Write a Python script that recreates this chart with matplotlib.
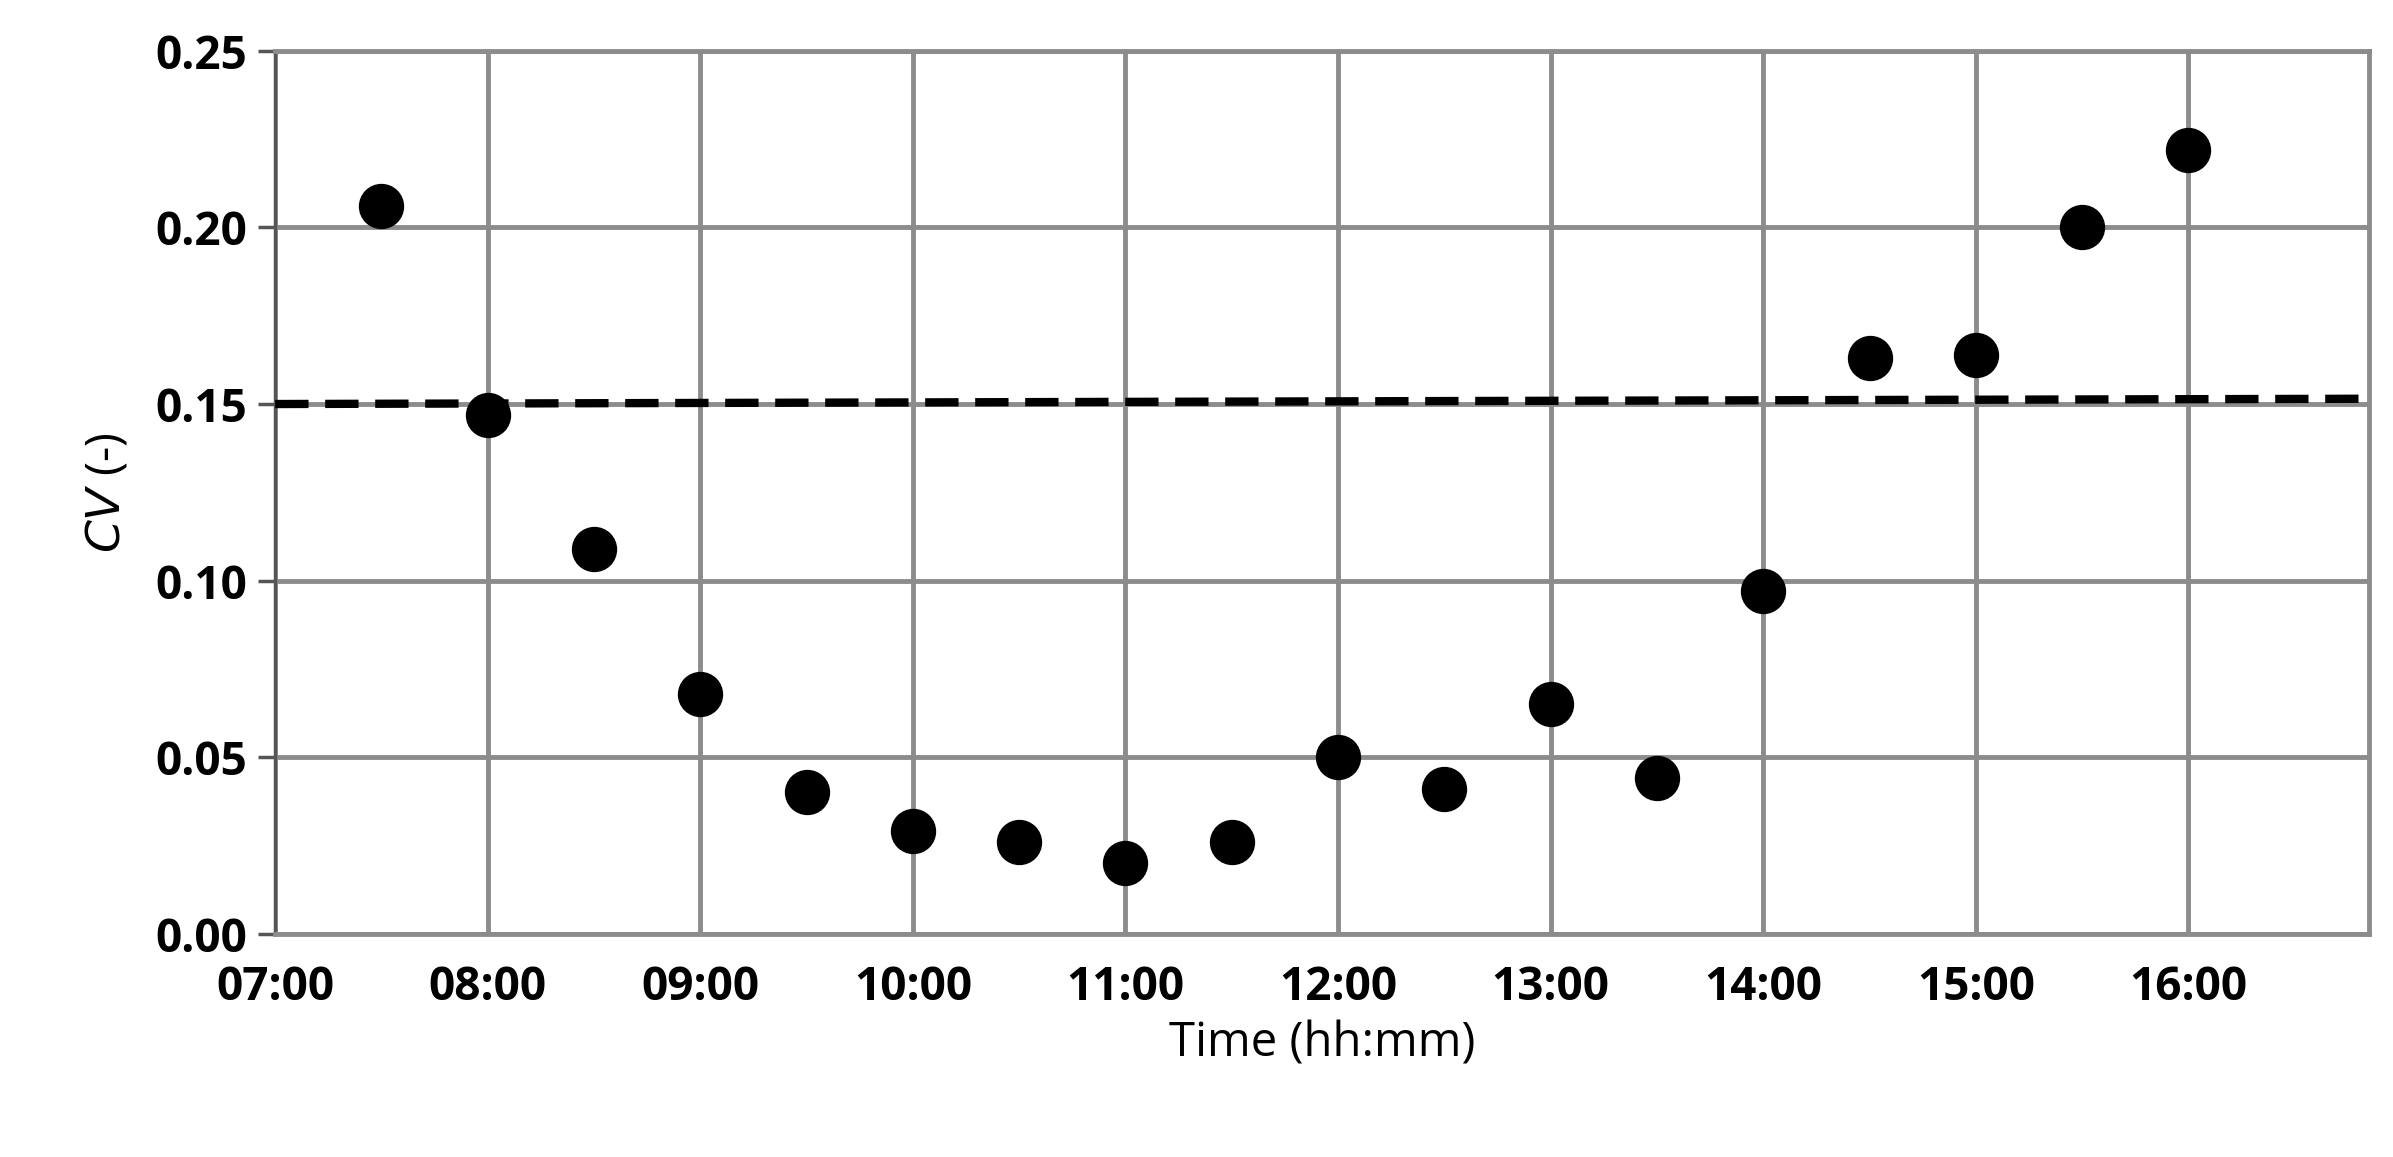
import matplotlib
matplotlib.use("Agg")
import matplotlib.pyplot as plt

# data (hours since midnight)
hours = [7.5, 8.0, 8.5, 9.0, 9.5, 10.0, 10.5, 11.0, 11.5, 12.0,
         12.5, 13.0, 13.5, 14.0, 14.5, 15.0, 15.5, 16.0]
cv = [0.206, 0.147, 0.109, 0.068, 0.040, 0.029, 0.026, 0.020, 0.026, 0.050,
      0.041, 0.065, 0.044, 0.097, 0.163, 0.164, 0.200, 0.222]
trend_x = [7.0, 16.85]
trend_y = [0.150, 0.1515]
tick_hours = list(range(7, 17))
tick_labels = [f"{h:02d}:00" for h in tick_hours]
y_ticks = [0.00, 0.05, 0.10, 0.15, 0.20, 0.25]

plt.rcParams["font.family"] = ["Open Sans", "DejaVu Sans"]

fig = plt.figure(figsize=(23.93, 11.57), dpi=100)
ax = fig.add_axes([0.115, 0.193, 0.875, 0.763])

ax.plot(trend_x, trend_y, color="black", linestyle=(0, (4, 2)), linewidth=6, zorder=3)
ax.scatter(hours, cv, s=1000, color="black", zorder=4)

ax.set_xlim(7.0, 16.85)
ax.set_ylim(0, 0.25)
ax.set_xticks(tick_hours)
ax.set_xticklabels(tick_labels)
ax.set_yticks(y_ticks)
ax.set_yticklabels([f"{v:.2f}" for v in y_ticks])
ax.grid(True, color="#8c8c8c", linewidth=3.5)
ax.set_axisbelow(True)

for side in ["top", "right", "bottom"]:
    ax.spines[side].set_color("#8c8c8c")
    ax.spines[side].set_linewidth(3.5)
ax.spines["left"].set_color("#555555")
ax.spines["left"].set_linewidth(2.5)

ax.tick_params(axis="y", direction="out", length=12, width=2.5, color="#555555",
               labelsize=33, pad=8)
ax.tick_params(axis="x", length=0, labelsize=33, pad=22)
for lab in ax.get_xticklabels() + ax.get_yticklabels():
    lab.set_fontweight("bold")

ax.set_xlabel("Time (hh:mm)", fontsize=34, labelpad=6)
ax.set_ylabel("$\\it{CV}$ (-)", fontsize=34, labelpad=18)

fig.savefig("out.png", dpi=100)
